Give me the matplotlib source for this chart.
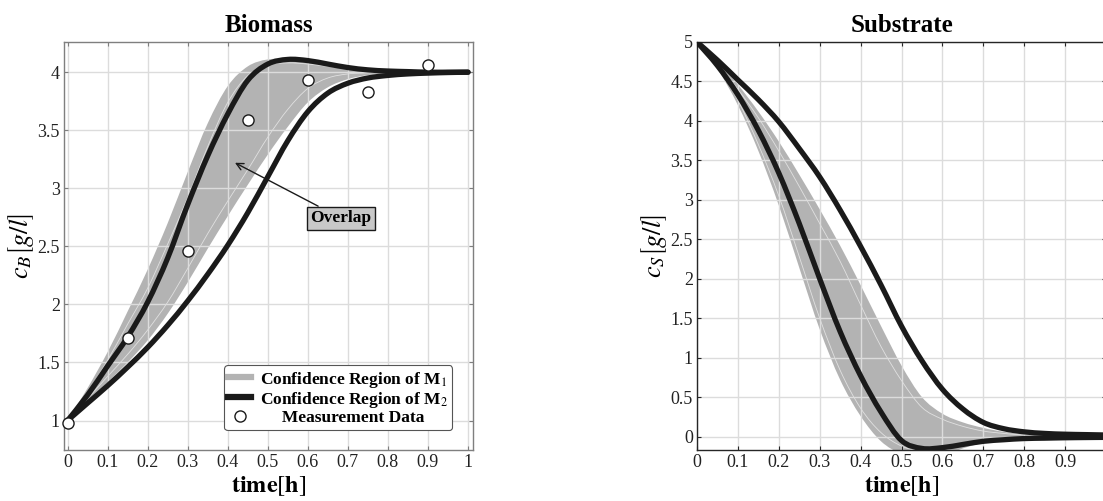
import numpy as np
import matplotlib
matplotlib.use("Agg")
import matplotlib.pyplot as plt
from matplotlib.ticker import FuncFormatter, MultipleLocator
from matplotlib.lines import Line2D
from matplotlib.path import Path
from matplotlib.patches import PathPatch

plt.rcParams['font.family'] = ['Liberation Serif', 'DejaVu Serif']
plt.rcParams['mathtext.fontset'] = 'stix'

# ---------------- data ----------------
t = [0.0, 0.05, 0.1, 0.15, 0.2, 0.25, 0.3, 0.35, 0.4, 0.45, 0.5, 0.55,
     0.6, 0.65, 0.7, 0.75, 0.8, 0.85, 0.9, 0.95, 1.0]

# Biomass
bio_m1_hi = [1.0, 1.28, 1.59, 1.94, 2.30, 2.70, 3.14, 3.56, 3.88, 4.05, 4.11, 4.11,
             4.09, 4.06, 4.035, 4.02, 4.01, 4.005, 4.0, 4.0, 4.0]
bio_m1_lo = [1.0, 1.16, 1.33, 1.50, 1.69, 1.92, 2.19, 2.48, 2.76, 3.03, 3.29, 3.53,
             3.74, 3.87, 3.94, 3.975, 3.99, 3.995, 4.0, 4.0, 4.0]
bio_m1_in_hi = [1.0, 1.24, 1.52, 1.83, 2.14, 2.52, 2.92, 3.36, 3.74, 3.97, 4.06, 4.08,
                4.07, 4.05, 4.03, 4.015, 4.008, 4.004, 4.0, 4.0, 4.0]
bio_m1_in_lo = [1.0, 1.19, 1.38, 1.57, 1.78, 2.02, 2.31, 2.61, 2.89, 3.16, 3.44, 3.68,
                3.86, 3.95, 3.985, 3.995, 4.0, 4.0, 4.0, 4.0, 4.0]
bio_m2_hi = [1.0, 1.22, 1.47, 1.72, 2.02, 2.40, 2.86, 3.28, 3.64, 3.93, 4.07, 4.11,
             4.10, 4.07, 4.04, 4.02, 4.01, 4.005, 4.0, 4.0, 4.0]
bio_m2_lo = [1.0, 1.15, 1.30, 1.46, 1.63, 1.82, 2.03, 2.26, 2.51, 2.79, 3.10, 3.41,
             3.66, 3.82, 3.905, 3.95, 3.972, 3.985, 3.992, 3.997, 4.0]

meas_t = [0.0, 0.15, 0.3, 0.45, 0.6, 0.75, 0.9]
meas_cb = [0.98, 1.71, 2.46, 3.59, 3.93, 3.83, 4.06]

# Substrate
sub_m1_hi = [5.0, 4.76, 4.46, 4.12, 3.74, 3.32, 2.88, 2.42, 1.92, 1.40, 0.90, 0.50,
             0.29, 0.18, 0.11, 0.06, 0.03, 0.02, 0.01, 0.005, 0.0]
sub_m1_lo = [5.0, 4.66, 4.20, 3.62, 2.93, 2.14, 1.36, 0.72, 0.26, -0.06, -0.22, -0.28,
             -0.25, -0.15, -0.08, -0.04, -0.02, -0.015, -0.01, -0.005, 0.0]
sub_m1_in_hi = [5.0, 4.73, 4.40, 4.04, 3.62, 3.17, 2.70, 2.22, 1.67, 1.14, 0.71, 0.37,
                0.22, 0.13, 0.07, 0.04, 0.02, 0.01, 0.005, 0.0, 0.0]
sub_m1_in_lo = [5.0, 4.69, 4.26, 3.70, 3.05, 2.28, 1.50, 0.84, 0.36, 0.05, -0.12, -0.19,
                -0.18, -0.10, -0.05, -0.02, -0.01, 0.0, 0.0, 0.0, 0.0]
sub_m2_hi = [5.0, 4.77, 4.52, 4.27, 3.99, 3.65, 3.29, 2.87, 2.41, 1.92, 1.40, 0.96,
             0.60, 0.35, 0.18, 0.10, 0.06, 0.04, 0.03, 0.025, 0.02]
sub_m2_lo = [5.0, 4.70, 4.33, 3.88, 3.34, 2.70, 2.00, 1.33, 0.77, 0.31, -0.05, -0.15,
             -0.14, -0.10, -0.06, -0.04, -0.025, -0.02, -0.015, -0.012, -0.01]

legend_labels = [r'Confidence Region of M$_1$', r'Confidence Region of M$_2$',
                 '     Measurement Data']

# ---------------- style ----------------
GRAY = '#b3b3b3'
BLACK = '#1a1a1a'
GRID = '#dcdcdc'
W, H = 1103, 501

fig = plt.figure(figsize=(W / 100, H / 100), dpi=100)


def px_axes(x0, y0, x1, y1):
    return fig.add_axes([x0 / W, 1 - y1 / H, (x1 - x0) / W, (y1 - y0) / H])


def smooth_segments(x, y):
    """Bezier (CURVE4) segments through the given points (Catmull-Rom tangents)."""
    p = np.column_stack([x, y]).astype(float)
    n = len(p)
    verts, codes = [], []
    for i in range(n - 1):
        p0 = p[i - 1] if i > 0 else p[i]
        p1, p2 = p[i], p[i + 1]
        p3 = p[i + 2] if i + 2 < n else p[i + 1]
        c1 = p1 + (p2 - p0) / 6.0
        c2 = p2 - (p3 - p1) / 6.0
        verts += [c1, c2, p2]
        codes += [Path.CURVE4] * 3
    return p[0], verts, codes


def smooth_path(x, y):
    start, v, c = smooth_segments(x, y)
    return Path([start] + v, [Path.MOVETO] + c)


def band_path(x, lo, hi):
    s1, v1, c1 = smooth_segments(x, hi)
    s2, v2, c2 = smooth_segments(x[::-1], lo[::-1])
    verts = [s1] + v1 + [s2] + v2 + [s1]
    codes = [Path.MOVETO] + c1 + [Path.LINETO] + c2 + [Path.CLOSEPOLY]
    return Path(verts, codes)


def style(ax, spine_color):
    ax.set_axisbelow('line')
    ax.grid(True, color=GRID, lw=1.0)
    for s in ax.spines.values():
        s.set_color(spine_color)
        s.set_linewidth(1.0)
    ax.tick_params(direction='in', top=True, right=True, length=3, width=0.8,
                   color=spine_color, labelsize=13, pad=3, labelcolor='#222222')
    fmt = FuncFormatter(lambda v, p: ('%g' % round(v, 3)))
    ax.xaxis.set_major_formatter(fmt)
    ax.yaxis.set_major_formatter(fmt)
    ax.xaxis.set_major_locator(MultipleLocator(0.1))
    ax.yaxis.set_major_locator(MultipleLocator(0.5))


def band(ax, lo, hi, in_lo, in_hi, m2_lo, m2_hi):
    ax.add_patch(PathPatch(band_path(t, lo, hi), fc=GRAY, ec='none', lw=0, zorder=1))
    for yy in (in_lo, in_hi):
        ax.add_patch(PathPatch(smooth_path(t, yy), fill=False, ec='white', lw=0.6,
                               alpha=0.6, zorder=1.2))
    for yy in (m2_lo, m2_hi):
        ax.add_patch(PathPatch(smooth_path(t, yy), fill=False, ec=BLACK, lw=3.8,
                               capstyle='round', joinstyle='round', zorder=3))


# ---- Biomass ----
ax1 = px_axes(64, 42, 473, 450)
style(ax1, '#7f7f7f')
band(ax1, bio_m1_lo, bio_m1_hi, bio_m1_in_lo, bio_m1_in_hi, bio_m2_lo, bio_m2_hi)
ax1.plot(meas_t, meas_cb, 'o', ms=8, mfc='white', mec=BLACK, mew=1.0, zorder=4,
         clip_on=False)
ax1.set_xlim(-0.009, 1.0125)
ax1.set_ylim(0.746, 4.26)
ax1.set_title('Biomass', fontsize=18, fontweight='bold', pad=7)
ax1.set_xlabel(r'$\mathbf{time}\left[\mathbf{h}\right]$', fontsize=17.5, labelpad=2)
ax1.set_ylabel(r'$c_B\left[g/l\right]$', fontsize=19, labelpad=1)

ax1.annotate('Overlap', xy=(0.418, 3.22), xytext=(0.683, 2.743),
             fontsize=12.5, fontweight='bold', ha='center', va='center',
             bbox=dict(boxstyle='square,pad=0.2', fc='#c8c8c8', ec=BLACK, lw=1.0),
             arrowprops=dict(arrowstyle='->', color=BLACK, lw=1.0,
                             shrinkA=0, shrinkB=0),
             zorder=5)

handles = [Line2D([], [], color=GRAY, lw=4.5),
           Line2D([], [], color=BLACK, lw=4.5),
           Line2D([], [], ls='none', marker='o', ms=8, mfc='white', mec=BLACK, mew=1.0)]
leg = ax1.legend(handles, legend_labels, loc='lower right',
                 bbox_to_anchor=(0.949, 0.049), borderaxespad=0,
                 prop={'family': 'Liberation Serif', 'weight': 'bold', 'size': 12.5},
                 handlelength=1.3, handletextpad=0.5, labelspacing=0.0,
                 borderpad=0.25, fancybox=True, framealpha=1, edgecolor='#555555')
leg.get_frame().set_linewidth(0.8)
leg.set_zorder(6)

# ---- Substrate ----
ax2 = px_axes(697, 42, 1106, 450)
style(ax2, '#262626')
band(ax2, sub_m1_lo, sub_m1_hi, sub_m1_in_lo, sub_m1_in_hi, sub_m2_lo, sub_m2_hi)
ax2.set_xlim(0, 1)
ax2.set_ylim(-0.17, 5)
ax2.set_title('Substrate', fontsize=18, fontweight='bold', pad=7)
ax2.set_xlabel(r'$\mathbf{time}\left[\mathbf{h}\right]$', fontsize=17.5, labelpad=2)
ax2.set_ylabel(r'$c_S\left[g/l\right]$', fontsize=19, labelpad=1)

fig.savefig('out.png', dpi=100)
